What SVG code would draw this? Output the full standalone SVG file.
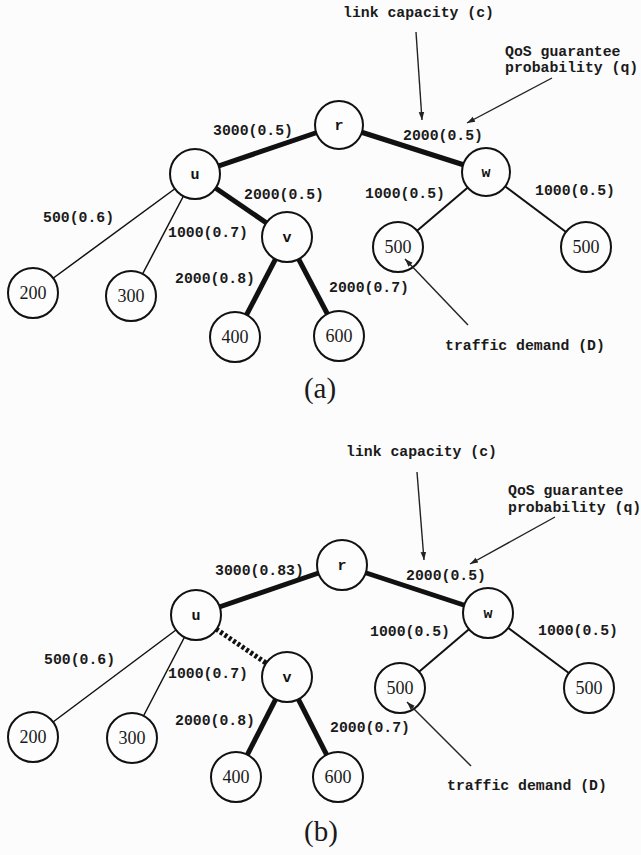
<svg xmlns="http://www.w3.org/2000/svg" width="641" height="855" viewBox="0 0 641 855">
  <style>
    .bg { fill: #fcfcfc; }
    .node circle { fill: #fdfdfd; stroke: #111; stroke-width: 2; }
    .lbl { font-family: "Liberation Mono", "Courier New", monospace; font-weight: bold; font-size: 14.8px; fill: #1a1a1a; }
    .nid { font-family: "Liberation Mono", "Courier New", monospace; font-weight: bold; font-size: 15px; fill: #111; text-anchor: middle; }
    .num { font-family: "Liberation Serif", "Times New Roman", serif; font-size: 18px; fill: #1a1a1a; text-anchor: middle; }
    .cap { font-family: "Liberation Serif", "Times New Roman", serif; font-size: 29px; fill: #1a1a1a; text-anchor: middle; }
    .thick { stroke: #111; stroke-width: 5; fill: none; }
    .thin { stroke: #111; stroke-width: 1.5; fill: none; }
    .mid { stroke: #111; stroke-width: 2; fill: none; }
    .dash { stroke: #111; stroke-width: 5; stroke-dasharray: 3 2.2; fill: none; }
    .ptr { stroke: #222; stroke-width: 1.4; fill: none; marker-end: url(#head); }
  </style>
  <defs>
    <marker id="head" viewBox="0 0 10 10" refX="10" refY="5" markerWidth="8" markerHeight="8" markerUnits="userSpaceOnUse" orient="auto">
      <path d="M0,1.5 L10,5 L0,8.5 z" fill="#222"/>
    </marker>
  </defs>
  <rect class="bg" x="0" y="0" width="641" height="855"/>

  <!-- ===== Tree (a) ===== -->
  <g id="edges-a">
    <line class="thick" x1="195" y1="174" x2="339" y2="125"/>
    <line class="thick" x1="339" y1="125" x2="486" y2="172"/>
    <line class="thick" x1="195" y1="174" x2="287" y2="237"/>
    <line class="thick" x1="287" y1="237" x2="235" y2="337"/>
    <line class="thick" x1="287" y1="237" x2="339" y2="336"/>
    <line class="thin" x1="195" y1="174" x2="33" y2="293"/>
    <line class="thin" x1="195" y1="174" x2="131" y2="296"/>
    <line class="mid" x1="486" y1="172" x2="398" y2="247"/>
    <line class="mid" x1="486" y1="172" x2="586" y2="247"/>
  </g>

  <g id="a-r" class="node"><circle cx="339" cy="125" r="24"/><text class="nid" x="339" y="130">r</text></g>
  <g id="a-u" class="node"><circle cx="195" cy="174" r="25"/><text class="nid" x="195" y="179">u</text></g>
  <g id="a-w" class="node"><circle cx="486" cy="172" r="24"/><text class="nid" x="486" y="177">w</text></g>
  <g id="a-v" class="node"><circle cx="287" cy="237" r="25"/><text class="nid" x="287" y="242">v</text></g>
  <g id="a-200" class="node"><circle cx="33" cy="293" r="25"/><text class="num" x="33" y="299">200</text></g>
  <g id="a-300" class="node"><circle cx="131" cy="296" r="25"/><text class="num" x="131" y="302">300</text></g>
  <g id="a-400" class="node"><circle cx="235" cy="337" r="25"/><text class="num" x="235" y="343">400</text></g>
  <g id="a-600" class="node"><circle cx="339" cy="336" r="25"/><text class="num" x="339" y="342">600</text></g>
  <g id="a-500l" class="node"><circle cx="398" cy="247" r="25"/><text class="num" x="398" y="253">500</text></g>
  <g id="a-500r" class="node"><circle cx="586" cy="247" r="25"/><text class="num" x="586" y="253">500</text></g>

  <!-- annotation pointers, drawn above the nodes -->
  <g id="pointers-a">
    <line class="ptr" x1="416" y1="32" x2="422" y2="120"/>
    <line class="ptr" x1="552" y1="78" x2="467" y2="123"/>
    <line class="ptr" x1="468" y1="325" x2="405" y2="259"/>
  </g>

  <g id="labels-a">
    <text class="lbl" x="213" y="135">3000(0.5)</text>
    <text class="lbl" x="244" y="199">2000(0.5)</text>
    <text class="lbl" x="43" y="222">500(0.6)</text>
    <text class="lbl" x="168" y="237">1000(0.7)</text>
    <text class="lbl" x="175" y="283">2000(0.8)</text>
    <text class="lbl" x="329" y="292">2000(0.7)</text>
    <text class="lbl" x="403" y="140">2000(0.5)</text>
    <text class="lbl" x="365" y="198">1000(0.5)</text>
    <text class="lbl" x="535" y="195">1000(0.5)</text>
    <text class="lbl" x="343" y="17">link capacity (c)</text>
    <text class="lbl" x="505" y="56">QoS guarantee</text>
    <text class="lbl" x="505" y="72">probability (q)</text>
    <text class="lbl" x="445" y="350">traffic demand (D)</text>
    <text class="cap" x="320" y="398">(a)</text>
  </g>

  <!-- ===== Tree (b) ===== -->
  <g id="edges-b">
    <line class="thick" x1="196" y1="615" x2="342" y2="565"/>
    <line class="thick" x1="342" y1="565" x2="488" y2="613"/>
    <line class="dash" x1="216" y1="629" x2="266" y2="663"/>
    <line class="thick" x1="287" y1="677" x2="236" y2="777"/>
    <line class="thick" x1="287" y1="677" x2="338" y2="777"/>
    <line class="thin" x1="196" y1="615" x2="33" y2="737"/>
    <line class="thin" x1="196" y1="615" x2="132" y2="738"/>
    <line class="mid" x1="488" y1="613" x2="400" y2="688"/>
    <line class="mid" x1="488" y1="613" x2="589" y2="688"/>
  </g>

  <g id="b-r" class="node"><circle cx="342" cy="565" r="25"/><text class="nid" x="342" y="570">r</text></g>
  <g id="b-u" class="node"><circle cx="196" cy="615" r="25"/><text class="nid" x="196" y="620">u</text></g>
  <g id="b-w" class="node"><circle cx="488" cy="613" r="25"/><text class="nid" x="488" y="618">w</text></g>
  <g id="b-v" class="node"><circle cx="287" cy="677" r="25"/><text class="nid" x="287" y="682">v</text></g>
  <g id="b-200" class="node"><circle cx="33" cy="737" r="25"/><text class="num" x="33" y="743">200</text></g>
  <g id="b-300" class="node"><circle cx="132" cy="738" r="25"/><text class="num" x="132" y="744">300</text></g>
  <g id="b-400" class="node"><circle cx="236" cy="777" r="25"/><text class="num" x="236" y="783">400</text></g>
  <g id="b-600" class="node"><circle cx="338" cy="777" r="25"/><text class="num" x="338" y="783">600</text></g>
  <g id="b-500l" class="node"><circle cx="400" cy="688" r="25"/><text class="num" x="400" y="694">500</text></g>
  <g id="b-500r" class="node"><circle cx="589" cy="688" r="25"/><text class="num" x="589" y="694">500</text></g>

  <g id="pointers-b">
    <line class="ptr" x1="417" y1="472" x2="424" y2="560"/>
    <line class="ptr" x1="555" y1="517" x2="470" y2="564"/>
    <line class="ptr" x1="471" y1="766" x2="407" y2="702"/>
  </g>

  <g id="labels-b">
    <text class="lbl" x="215" y="575">3000(0.83)</text>
    <text class="lbl" x="44" y="664">500(0.6)</text>
    <text class="lbl" x="168" y="678">1000(0.7)</text>
    <text class="lbl" x="175" y="725">2000(0.8)</text>
    <text class="lbl" x="330" y="732">2000(0.7)</text>
    <text class="lbl" x="406" y="580">2000(0.5)</text>
    <text class="lbl" x="370" y="636">1000(0.5)</text>
    <text class="lbl" x="538" y="635">1000(0.5)</text>
    <text class="lbl" x="346" y="456">link capacity (c)</text>
    <text class="lbl" x="508" y="495">QoS guarantee</text>
    <text class="lbl" x="508" y="512">probability (q)</text>
    <text class="lbl" x="447" y="790">traffic demand (D)</text>
    <text class="cap" x="321" y="841">(b)</text>
  </g>
</svg>
